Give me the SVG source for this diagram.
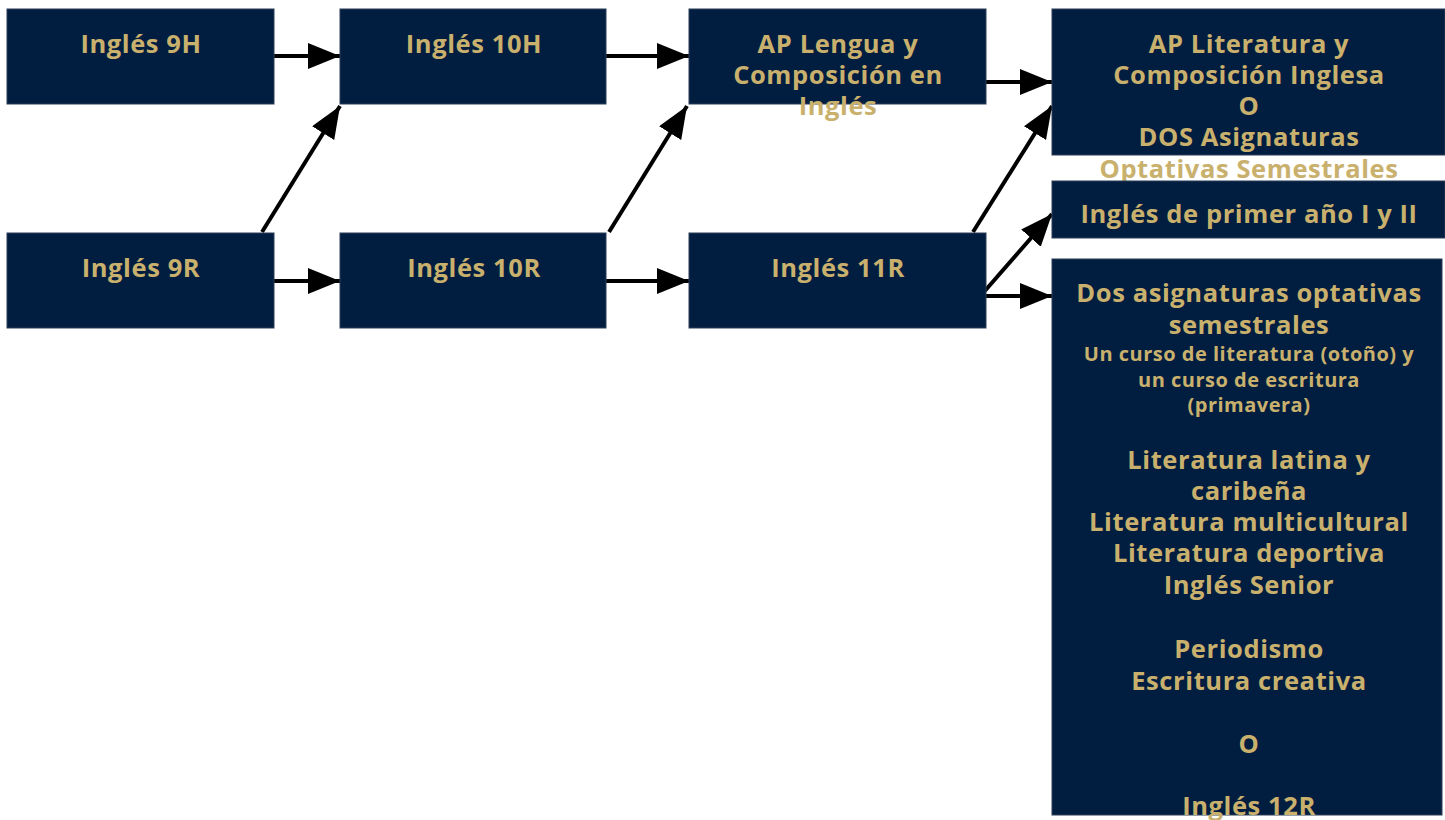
<svg xmlns="http://www.w3.org/2000/svg" width="1445" height="820" viewBox="0 0 1445 820">
<style>
.box{fill:#011e41;stroke:#2c3e58;stroke-width:1}
.t{font-family:"Open Sans","DejaVu Sans",sans-serif;font-weight:bold;font-size:25.5px;letter-spacing:0.6px;fill:#c9b16d;text-anchor:middle}
.s{font-size:20px;letter-spacing:0.5px}
.c{stroke:#000;stroke-width:4;fill:none;marker-end:url(#ah)}
</style>
<defs>
<marker id="ah" markerUnits="userSpaceOnUse" markerWidth="34" markerHeight="28" refX="32" refY="13" orient="auto" viewBox="0 0 34 28">
<path d="M0,0 L32,13 L0,26 z" fill="#000"/>
</marker>
</defs>
<rect width="1445" height="820" fill="#fff"/>
<g id="connectors">
<line class="c" x1="274" y1="56" x2="340" y2="56"/>
<line class="c" x1="606" y1="56" x2="689" y2="56"/>
<line class="c" x1="274" y1="281" x2="340" y2="281"/>
<line class="c" x1="606" y1="281" x2="689" y2="281"/>
<line class="c" x1="262" y1="232" x2="340" y2="106"/>
<line class="c" x1="609" y1="232" x2="687" y2="106"/>
<line class="c" x1="986" y1="82" x2="1052" y2="82"/>
<line class="c" x1="973" y1="232" x2="1052" y2="106"/>
<line class="c" x1="983" y1="293" x2="1052" y2="214"/>
<line class="c" x1="985" y1="296" x2="1052" y2="296"/>
</g>
<g id="n9H"><rect class="box" x="7" y="9" width="267" height="95"/><text class="t" x="141" y="53">Inglés 9H</text></g>
<g id="n10H"><rect class="box" x="340" y="9" width="266" height="95"/><text class="t" x="474" y="53">Inglés 10H</text></g>
<g id="nAPL"><rect class="box" x="689" y="9" width="297" height="95"/><text class="t" x="838" y="53">AP Lengua y</text><text class="t" x="838" y="84">Composición en</text><text class="t" x="838" y="115">Inglés</text></g>
<g id="nAPLit"><rect class="box" x="1052" y="9" width="393" height="146"/><text class="t" x="1249" y="53">AP Literatura y</text><text class="t" x="1249" y="84">Composición Inglesa</text><text class="t" x="1249" y="115">O</text><text class="t" x="1249" y="146">DOS Asignaturas</text><text class="t" x="1249" y="178">Optativas Semestrales</text></g>
<g id="nPrimer"><rect class="box" x="1052" y="181" width="393" height="57"/><text class="t" x="1249" y="223">Inglés de primer año I y II</text></g>
<g id="n9R"><rect class="box" x="7" y="233" width="267" height="95"/><text class="t" x="141" y="277">Inglés 9R</text></g>
<g id="n10R"><rect class="box" x="340" y="233" width="266" height="95"/><text class="t" x="474" y="277">Inglés 10R</text></g>
<g id="n11R"><rect class="box" x="689" y="233" width="297" height="95"/><text class="t" x="838" y="277">Inglés 11R</text></g>
<g id="nDos"><rect class="box" x="1052" y="259" width="390" height="556"/>
<text class="t" x="1249" y="302">Dos asignaturas optativas</text>
<text class="t" x="1249" y="334">semestrales</text>
<text class="t s" x="1249" y="361">Un curso de literatura (otoño) y</text>
<text class="t s" x="1249" y="387">un curso de escritura</text>
<text class="t s" x="1249" y="412">(primavera)</text>
<text class="t" x="1249" y="469">Literatura latina y</text>
<text class="t" x="1249" y="500">caribeña</text>
<text class="t" x="1249" y="531">Literatura multicultural</text>
<text class="t" x="1249" y="562">Literatura deportiva</text>
<text class="t" x="1249" y="594">Inglés Senior</text>
<text class="t" x="1249" y="658">Periodismo</text>
<text class="t" x="1249" y="690">Escritura creativa</text>
<text class="t" x="1249" y="753">O</text>
<text class="t" x="1249" y="815">Inglés 12R</text>
</g>
</svg>
